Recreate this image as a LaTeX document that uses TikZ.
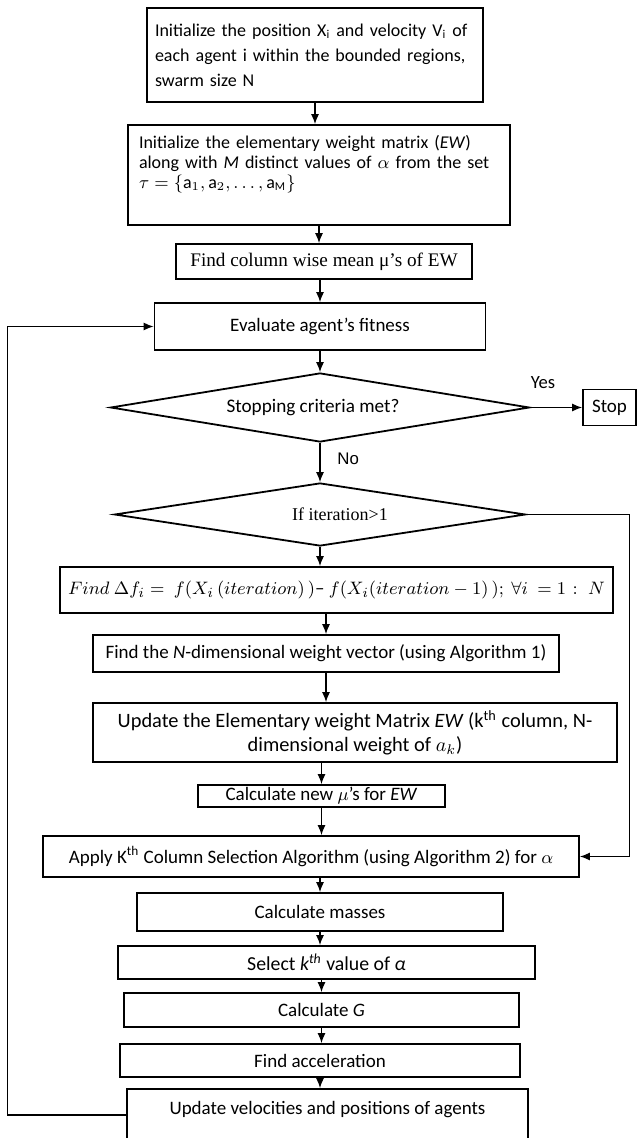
\documentclass[tikz,border=0pt]{standalone}
\usepackage{amsmath}
\usepackage{fontspec}
\setmainfont{Carlito}
\newfontfamily\timesfont{Liberation Serif}
\newfontfamily\arialfont{Liberation Sans}
\usetikzlibrary{shapes.geometric,arrows.meta}
\tikzset{stepbox/.style={draw,line width=0.9pt,inner sep=2pt,font=\fontsize{9.5}{11.5}\selectfont},
	 testbox/.style={diamond,draw,line width=0.9pt,inner sep=0pt,aspect=6},
	 flow/.style={-{Latex[length=5pt,width=4pt]},line width=0.6pt},
	 tag/.style={inner sep=0pt,font=\fontsize{9.3}{11}\selectfont}
	 }

\begin{document}
\begin{tikzpicture}[x=0.5pt,y=-0.5pt] % units are pixels of the original figure
	\useasboundingbox (0,0) rectangle (641,1138);
	\node[stepbox,minimum width=168pt,minimum height=47pt,text width=160pt,align=left,font=\fontsize{9}{11}\selectfont] (init) at (315,55)
	  {Initialize the position X\textsubscript{i} and velocity V\textsubscript{i} of\\[1.5pt] each agent i within the bounded regions,\\[1.5pt] swarm size N};
	\node[stepbox,minimum width=191pt,minimum height=50pt,text width=180pt,align=left,font=\fontsize{9}{10}\selectfont] (ew) at (319,175)
	  {Initialize the elementary weight matrix (\textit{EW})\\ along with \textit{M} distinct values of $\alpha$ from the set\\ $\tau=\{\mathrm{a}_1,\mathrm{a}_2,\dots,\mathrm{a}_\mathrm{M}\}$\\[3pt] \mbox{}};
	\node[stepbox,minimum width=148pt,minimum height=17.5pt,inner ysep=0.5pt,font=\timesfont\fontsize{9.6}{11}\selectfont] (mean) at (324,261.5)
	  {Find column wise mean μ’s of EW};
	\node[stepbox,minimum width=165.5pt,minimum height=23.5pt] (eval) at (320,326.5) {Evaluate agent’s fitness};
	\node[testbox,minimum width=209.5pt,minimum height=34.5pt,font=\fontsize{9.6}{11}\selectfont] (stopq) at (320,407.5) {Stopping criteria met?\hspace*{7pt}};
	\node[stepbox,minimum width=26.5pt,minimum height=18pt] (stop) at (609.5,407.5) {Stop};
	\node[tag] (yes) at (543,383) {Yes};
	\node[testbox,minimum width=205.5pt,minimum height=31.5pt,font=\timesfont\fontsize{9}{11}\selectfont] (iter) at (320,514.5) {\hspace*{20pt}If iteration>1};
	\node[tag,anchor=west,font=\arialfont\fontsize{8.4}{10}\selectfont] (no) at (337,459) {No};
	\node[stepbox,minimum width=276.5pt,minimum height=23pt,font=\fontsize{9.5}{11}\selectfont] (delta) at (336.5,590)
	  {$Find\ \Delta f_i=\ f(X_i\,(iteration)\,)\text{–}\ f(X_i(iteration-1)\,);\ \forall i\ =1\ \colon\ N$};
	\node[stepbox,minimum width=233pt,minimum height=18.5pt,inner ysep=0.5pt] (ndim) at (326,653.5)
	  {Find the \textit{N}-dimensional weight vector (using Algorithm 1)};
	\node[stepbox,minimum width=262pt,minimum height=29.5pt,align=center,font=\fontsize{10.2}{12}\selectfont] (upd) at (355,732.5)
	  {Update the Elementary weight Matrix \textit{EW} (k\textsuperscript{th} column, N-\\ dimensional weight of $a_k$)};
	\node[stepbox,minimum width=123.5pt,minimum height=11pt,inner ysep=0pt] (newmu) at (321.5,796)
	  {Calculate new $\mu$’s for \textit{EW}};
	\node[stepbox,minimum width=268pt,minimum height=20.5pt,inner ysep=0.5pt] (apply) at (311,856.5)
	  {Apply K\textsuperscript{th} Column Selection Algorithm (using Algorithm 2) for $\alpha$};
	\node[stepbox,minimum width=183pt,minimum height=19pt] (masses) at (320,912) {Calculate masses};
	\node[stepbox,minimum width=208.5pt,minimum height=16.5pt,inner ysep=0.5pt,font=\fontsize{9.9}{11.5}\selectfont] (select) at (326.5,962.5)
	  {Select \textit{k\textsuperscript{th}} value of \textit{α}};
	\node[stepbox,minimum width=197.5pt,minimum height=17pt,inner ysep=0.5pt] (calcg) at (321.5,1010) {Calculate \textit{G}};
	\node[stepbox,minimum width=200pt,minimum height=16.5pt,inner ysep=0.5pt] (accel) at (320,1060.5) {Find acceleration};
	\node[stepbox,minimum width=200.5pt,minimum height=26pt,align=center] (updv) at (327.5,1115)
	  {Update velocities and positions of agents\\[-4.5pt] \mbox{}};
	\draw[flow] (init.south) -- (init.south |- ew.north);
	\draw[flow] (ew.south) -- (ew.south |- mean.north);
	\draw[flow] (mean.south -| eval) -- (eval.north);
	\draw[flow] (eval.south) -- (stopq.north);
	\draw[flow] (stopq.east) -- (stop.west);
	\draw[flow] (stopq.south) -- (iter.north);
	\draw[flow] (iter.south) -- (iter.south |- delta.north);
	\draw[flow] (delta.south -| ndim) -- (ndim.north);
	\draw[flow] (ndim.south) -- (ndim.south |- upd.north);
	\draw[flow] (upd.south -| newmu) -- (newmu.north);
	\draw[flow] (newmu.south) -- (newmu.south |- apply.north);
	\draw[flow] (iter.east) -- ++(103,0) |- (apply.east);
	\draw[flow] (apply.south -| masses) -- (masses.north);
	\draw[flow] (masses.south) -- (masses.south |- select.north);
	\draw[flow] (select.south -| calcg) -- (calcg.north);
	\draw[flow] (calcg.south) -- (calcg.south |- accel.north);
	\draw[flow] (accel.south) -- (accel.south |- updv.north);
	\draw[flow] (updv.west) -- ++(-119,0) |- (eval.west);
\end{tikzpicture}
\end{document}
